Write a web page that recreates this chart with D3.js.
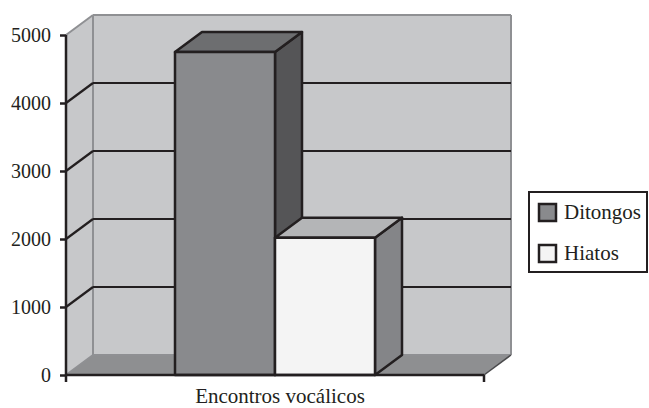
<!DOCTYPE html>
<html>
<head>
<meta charset="utf-8">
<title>Encontros vocálicos</title>
<script src="https://d3js.org/d3.v7.min.js"></script>
<style>
  body { margin: 0; background: #fff; }
  text { fill: #231f20; }
</style>
</head>
<body>
<script>
// data
var categories = ["Encontros vocálicos"];
var series = ["Ditongos", "Hiatos"];
var values = [4750, 2020];
var yTicks = [0, 1000, 2000, 3000, 4000, 5000];

var w = 649, h = 408;
var xL = 66, xR = 484, yT = 35, yB = 375;
var dx = 27, dy = -20;   // depth of the 3d box
var ink = "#231f20";

var front = ["#898a8d", "#f4f4f4"];
var topC = ["#6d6e70", "#b4b5b7"];
var sideC = ["#555557", "#848588"];

var svg = d3.select("body").append("svg")
  .attr("width", w)
  .attr("height", h);

var y = d3.scaleLinear().domain([0, 5000]).range([yB, yT]);
var x0 = d3.scaleBand().domain(categories).range([xL, xR]).paddingInner(0).paddingOuter(0.545);
var x1 = d3.scaleBand().domain(series).range([0, x0.bandwidth()]);

function pts(a) { return a.map(function(p){ return p.join(","); }).join(" "); }

// layers: shapes first, then texts on top
var shapes = svg.append("g");
var labels = svg.append("g");

// walls and floor
shapes.append("polygon")
  .attr("points", pts([[xL + dx, yT + dy], [xR + dx, yT + dy], [xR + dx, yB + dy], [xL + dx, yB + dy]]))
  .attr("fill", "#c7c8ca");
shapes.append("polygon")
  .attr("points", pts([[xL, yT], [xL + dx, yT + dy], [xL + dx, yB + dy], [xL, yB]]))
  .attr("fill", "#c7c8ca");
shapes.append("polygon")
  .attr("points", pts([[xL, yB], [xR, yB], [xR + dx, yB + dy], [xL + dx, yB + dy]]))
  .attr("fill", "#8e8f91");

// wall edges (gray)
var edges = [
  [[xL, yT], [xL + dx, yT + dy]],
  [[xL + dx, yT + dy], [xR + dx, yT + dy]],
  [[xR + dx, yT + dy], [xR + dx, yB + dy]],
  [[xL + dx, yT + dy], [xL + dx, yB + dy]],
  [[xL + dx, yB + dy], [xR + dx, yB + dy]],
  [[xL, yB], [xL + dx, yB + dy]]
];
shapes.selectAll(".edge").data(edges).enter().append("line")
  .attr("x1", function(d){ return d[0][0]; }).attr("y1", function(d){ return d[0][1]; })
  .attr("x2", function(d){ return d[1][0]; }).attr("y2", function(d){ return d[1][1]; })
  .attr("stroke", "#8f9093").attr("stroke-width", 2);
shapes.append("line")
  .attr("x1", xR).attr("y1", yB).attr("x2", xR + dx).attr("y2", yB + dy)
  .attr("stroke", "#4a4a4c").attr("stroke-width", 1.5);

// gridlines
var grid = yTicks.filter(function(t){ return t > 0 && t < 5000; });
shapes.selectAll(".gb").data(grid).enter().append("line")
  .attr("x1", xL + dx).attr("x2", xR + dx)
  .attr("y1", function(d){ return y(d) + dy; }).attr("y2", function(d){ return y(d) + dy; })
  .attr("stroke", ink).attr("stroke-width", 2.2);
shapes.selectAll(".gl").data(grid).enter().append("line")
  .attr("x1", xL).attr("x2", xL + dx)
  .attr("y1", function(d){ return y(d); }).attr("y2", function(d){ return y(d) + dy; })
  .attr("stroke", ink).attr("stroke-width", 2.2);

// bars
var bars = shapes.append("g").attr("transform", "translate(" + x0(categories[0]) + ",0)");
series.forEach(function(s, i) {
  var bx = x1(s), bw = x1.bandwidth(), yv = y(values[i]), y0 = y(0);
  var b = bars.append("g")
    .attr("stroke", ink).attr("stroke-width", 2.5).attr("stroke-linejoin", "round");
  b.append("polygon")
    .attr("points", pts([[bx + bw, yv], [bx + bw + dx, yv + dy], [bx + bw + dx, y0 + dy], [bx + bw, y0]]))
    .attr("fill", sideC[i]);
  b.append("polygon")
    .attr("points", pts([[bx, yv], [bx + dx, yv + dy], [bx + bw + dx, yv + dy], [bx + bw, yv]]))
    .attr("fill", topC[i]);
  b.append("rect")
    .attr("x", bx).attr("y", yv).attr("width", bw).attr("height", y0 - yv)
    .attr("fill", front[i]);
});

// y axis: ticks from d3.axisLeft, labels as plain texts
var yAxis = d3.axisLeft(y).tickValues(yTicks).tickSize(6).tickFormat("");
var ya = shapes.append("g").attr("transform", "translate(" + xL + ",0)").call(yAxis);
ya.select(".domain").remove();
ya.selectAll(".tick line").attr("stroke", ink).attr("stroke-width", 2.5);
ya.selectAll(".tick text").remove();
shapes.append("line").attr("x1", xL).attr("x2", xL).attr("y1", yT).attr("y2", yB + 7)
  .attr("stroke", ink).attr("stroke-width", 2.5);

labels.selectAll(".ylab").data(yTicks).enter().append("text")
  .text(function(d){ return d3.format("d")(d); })
  .attr("x", xL - 15)
  .attr("y", function(d){ return y(d) + 7; })
  .attr("text-anchor", "end")
  .style("font-family", "'Liberation Serif'")
  .style("font-size", "20px");

// x axis
shapes.append("line").attr("x1", xL).attr("x2", xR).attr("y1", yB).attr("y2", yB)
  .attr("stroke", ink).attr("stroke-width", 2.5);
shapes.append("line").attr("x1", xR).attr("x2", xR).attr("y1", yB).attr("y2", yB + 7)
  .attr("stroke", ink).attr("stroke-width", 2.5);
labels.append("text")
  .text(categories[0])
  .attr("x", x0(categories[0]) + x0.bandwidth() / 2 + 5)
  .attr("y", 403)
  .attr("text-anchor", "middle")
  .style("font-family", "'Liberation Serif'")
  .style("font-size", "21px");

// legend
var lg = shapes.append("g").attr("transform", "translate(529,192)");
lg.append("rect").attr("width", 118).attr("height", 80)
  .attr("fill", "#fff").attr("stroke", ink).attr("stroke-width", 2);
series.forEach(function(s, i) {
  lg.append("rect").attr("x", 10).attr("y", 12 + i * 41).attr("width", 17).attr("height", 17)
    .attr("fill", front[i]).attr("stroke", ink).attr("stroke-width", 2.5);
  labels.append("text").text(s).attr("x", 529 + 35).attr("y", 192 + 27 + i * 41)
    .style("font-family", "'Liberation Serif'")
    .style("font-size", "21px");
});
</script>
</body>
</html>
